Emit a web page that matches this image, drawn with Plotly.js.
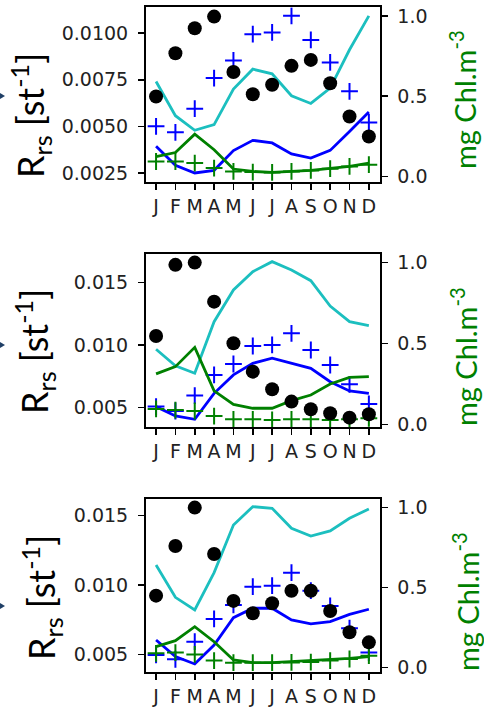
<!DOCTYPE html>
<html>
<head>
<meta charset="utf-8">
<script src="https://cdn.plot.ly/plotly-3.0.1.min.js"></script>
<style>html,body{margin:0;padding:0;background:#fff;}#chart{width:484px;height:709px;}</style>
</head>
<body>
<div id="chart"></div>
<script>
const months = ["J","F","M","A","M","J","J","A","S","O","N","D"];

// Panel 1
const p1Cyan  = [0.00741,0.00557,0.00479,0.00509,0.00700,0.00807,0.00782,0.00664,0.00623,0.00705,0.00911,0.01093];
const p1Blue  = [0.00393,0.00291,0.00250,0.00264,0.00370,0.00425,0.00411,0.00352,0.00330,0.00371,0.00473,0.00577];
const p1BluePlus = [0.00500,0.00468,0.00595,0.00759,0.00854,0.00995,0.01004,0.01093,0.00964,0.00843,0.00688,0.00521];
const p1Green = [0.124,0.149,0.263,0.166,0.046,0.031,0.025,0.031,0.037,0.050,0.062,0.083];
const p1GreenPlus = [0.093,0.093,0.083,0.052,0.031,0.027,0.025,0.031,0.037,0.048,0.062,0.073];
const p1Chl   = [0.498,0.768,0.923,0.996,0.651,0.512,0.571,0.689,0.726,0.581,0.373,0.249];

// Panel 2
const p2Cyan  = [0.00966,0.00833,0.00774,0.01186,0.01439,0.01585,0.01665,0.01599,0.01513,0.01311,0.01186,0.01154];
const p2Blue  = [0.00508,0.00434,0.00407,0.00614,0.00761,0.00854,0.00894,0.00854,0.00814,0.00707,0.00633,0.00614];
const p2BluePlus = [0.00508,0.00473,0.00596,0.00761,0.00848,0.00992,0.01000,0.01093,0.00960,0.00840,0.00686,0.00529];
const p2Green = [0.311,0.356,0.475,0.206,0.123,0.099,0.099,0.146,0.181,0.249,0.290,0.294];
const p2GreenPlus = [0.095,0.088,0.082,0.051,0.031,0.031,0.027,0.031,0.031,0.027,0.031,0.037];
const p2Chl   = [0.545,0.984,0.998,0.757,0.500,0.325,0.216,0.140,0.093,0.068,0.041,0.062];

// Panel 3
const p3Cyan  = [0.01144,0.00911,0.00820,0.01089,0.01433,0.01565,0.01553,0.01409,0.01353,0.01390,0.01481,0.01548];
const p3Blue  = [0.00603,0.00483,0.00430,0.00567,0.00764,0.00832,0.00832,0.00748,0.00719,0.00736,0.00788,0.00825];
const p3BluePlus = [0.00495,0.00464,0.00591,0.00755,0.00856,0.00988,0.00995,0.01089,0.00959,0.00849,0.00688,0.00512];
const p3Green = [0.129,0.167,0.254,0.160,0.046,0.029,0.029,0.035,0.040,0.050,0.056,0.067];
const p3GreenPlus = [0.0875,0.092,0.081,0.042,0.029,0.029,0.029,0.031,0.033,0.042,0.052,0.073];
const p3Chl   = [0.448,0.758,0.998,0.708,0.415,0.338,0.400,0.479,0.479,0.352,0.219,0.156];

const leftTicks1 = [0.0025,0.0050,0.0075,0.0100];
const leftTickText1 = ["0.0025","0.0050","0.0075","0.0100"];
const leftTicks23 = [0.005,0.010,0.015];
const leftTickText23 = ["0.005","0.010","0.015"];
const rightTicks = [0.0,0.5,1.0];
const rightTickText = ["0.0","0.5","1.0"];

const W = 484, H = 709;
const panels = [
  {cyan:p1Cyan, blue:p1Blue, bp:p1BluePlus, green:p1Green, gp:p1GreenPlus, chl:p1Chl,
   top:7.3, bot:181.7, lr:[0.00203,0.01139], rr:[-0.033,1.054], lt:leftTicks1, ltt:leftTickText1,
   titleX:31, titleY:116, rX:463, rY:100, arrowY:96},
  {cyan:p2Cyan, blue:p2Blue, bp:p2BluePlus, green:p2Green, gp:p2GreenPlus, chl:p2Chl,
   top:254, bot:427.3, lr:[0.00343,0.01726], rr:[-0.0185,1.051], lt:leftTicks23, ltt:leftTickText23,
   titleX:34, titleY:352, rX:464, rY:357, arrowY:345},
  {cyan:p3Cyan, blue:p3Blue, bp:p3BluePlus, green:p3Green, gp:p3GreenPlus, chl:p3Chl,
   top:499.3, bot:672.3, lr:[0.0037,0.01618], rr:[-0.031,1.05], lt:leftTicks23, ltt:leftTickText23,
   titleX:41, titleY:598, rX:466, rY:602, arrowY:606}
];

const xIdx = months.map((m,i)=>i);
const tickFont = {family:"DejaVu Sans", size:19, color:"#222"};
const traces = [];
const layout = {
  width:W, height:H, margin:{l:0,r:0,t:0,b:0},
  paper_bgcolor:"#fff", plot_bgcolor:"#fff", showlegend:false,
  annotations:[], shapes:[]
};
const xl = 146/W, xr = 379.5/W;

panels.forEach((p,k)=>{
  const n = k+1;
  const xa = "x"+n, ya = "y"+n, yb = "y"+(n+3);
  const xKey = n===1?"xaxis":"xaxis"+n;
  const yKey = n===1?"yaxis":"yaxis"+n;
  const ybKey = "yaxis"+(n+3);
  const dom = [1-p.bot/H, 1-p.top/H];
  layout[xKey] = {domain:[xl,xr], anchor:ya, range:[-0.52,11.55], tickvals:xIdx, ticktext:months,
    ticks:"outside", ticklen:6, tickwidth:1.5, tickcolor:"#000", showline:true, linecolor:"#000", linewidth:2,
    mirror:true, showgrid:false, zeroline:false, tickfont:tickFont, ticklabelstandoff:0, fixedrange:true};
  layout[yKey] = {domain:dom, anchor:xa, range:p.lr, tickvals:p.lt, ticktext:p.ltt,
    ticks:"outside", ticklen:6, tickwidth:1.5, tickcolor:"#000", showline:true, linecolor:"#000", linewidth:2,
    mirror:true, showgrid:false, zeroline:false, tickfont:tickFont, ticklabelstandoff:6};
  layout[ybKey] = {overlaying:ya, side:"right", anchor:xa, range:p.rr, tickvals:rightTicks, ticktext:rightTickText,
    ticks:"outside", ticklen:6, tickwidth:1.5, tickcolor:"#000", showline:true, linecolor:"#000", linewidth:2,
    showgrid:false, zeroline:false, tickfont:tickFont, ticklabelstandoff:6};

  traces.push({x:xIdx, y:p.cyan, xaxis:xa, yaxis:ya, mode:"lines", line:{color:"#1cbfbf", width:2.8}});
  traces.push({x:xIdx, y:p.blue, xaxis:xa, yaxis:ya, mode:"lines", line:{color:"#0000ff", width:2.8}});
  traces.push({x:xIdx, y:p.bp, xaxis:xa, yaxis:ya, mode:"markers",
    marker:{symbol:"cross-thin", size:12, color:"#0000ff", line:{color:"#0000ff", width:2}}});
  traces.push({x:xIdx, y:p.green, xaxis:xa, yaxis:yb, mode:"lines", line:{color:"#008000", width:2.8}});
  traces.push({x:xIdx, y:p.gp, xaxis:xa, yaxis:yb, mode:"markers",
    marker:{symbol:"cross-thin", size:12, color:"#008000", line:{color:"#008000", width:2}}});
  traces.push({x:xIdx, y:p.chl, xaxis:xa, yaxis:yb, mode:"markers",
    marker:{symbol:"circle", size:14, color:"#000"}});

  layout.annotations.push({xref:"paper", yref:"paper", x:p.titleX/W, y:1-p.titleY/H, xanchor:"center", yanchor:"middle",
    textangle:-90, showarrow:false, text:"R<sub>rs</sub> [st<sup>-1</sup>]", font:{family:"Lato", size:36, color:"#000"}});
  layout.annotations.push({xref:"paper", yref:"paper", x:p.rX/W, y:1-p.rY/H, xanchor:"center", yanchor:"middle",
    textangle:-90, showarrow:false, text:"mg Chl.m<sup>-3</sup>", font:{family:"Lato", size:29, color:"#008000"}});
  layout.shapes.push({type:"path", xref:"paper", yref:"paper", layer:"above",
    path:`M 0 ${1-(p.arrowY-3)/H} L ${5/W} ${1-p.arrowY/H} L 0 ${1-(p.arrowY+3)/H} Z`,
    fillcolor:"#1f3f66", line:{width:0}});
});

Plotly.newPlot("chart", traces, layout, {staticPlot:true});
</script>
</body>
</html>
